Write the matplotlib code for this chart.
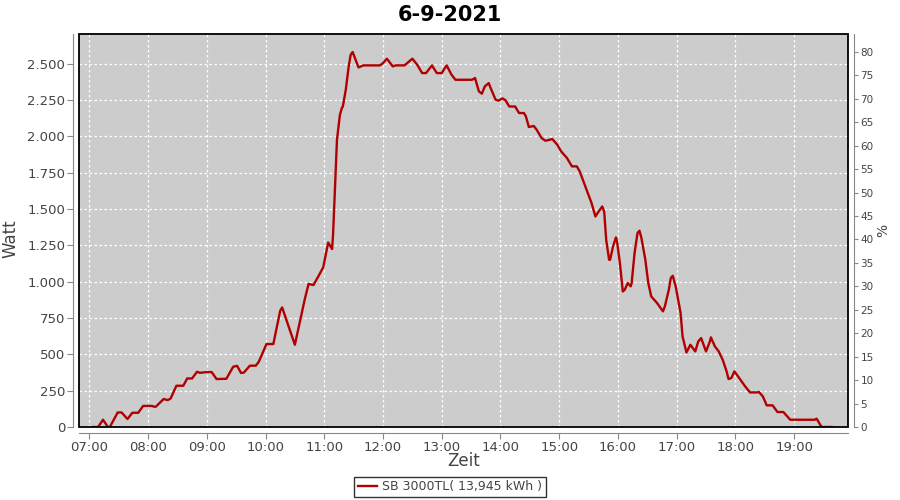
import matplotlib
matplotlib.use("Agg")
import matplotlib.pyplot as plt
from matplotlib.patches import Rectangle
from matplotlib.ticker import FuncFormatter

zeiten = ["07:04", "07:09", "07:14", "07:19", "07:21", "07:29", "07:33", "07:39", "07:44", "07:50",
          "07:55", "08:04", "08:06", "08:08", "08:16", "08:20", "08:23", "08:29", "08:36", "08:40",
          "08:45", "08:50", "08:53", "09:00", "09:05", "09:10", "09:20", "09:27", "09:31", "09:35",
          "09:38", "09:44", "09:50", "09:53", "10:01", "10:08", "10:15", "10:17", "10:30", "10:40",
          "10:44", "10:49", "10:54", "10:59", "11:04", "11:08", "11:09", "11:10", "11:12", "11:13",
          "11:16", "11:18", "11:19", "11:22", "11:25", "11:27", "11:29", "11:32", "11:35", "11:40",
          "11:57", "12:00", "12:04", "12:10", "12:13", "12:22", "12:26", "12:30", "12:35", "12:40",
          "12:44", "12:50", "12:55", "13:00", "13:05", "13:10", "13:14", "13:31", "13:34", "13:38",
          "13:41", "13:44", "13:48", "13:50", "13:55", "13:58", "14:02", "14:05", "14:09", "14:15",
          "14:19", "14:24", "14:26", "14:29", "14:34", "14:37", "14:42", "14:46", "14:53", "14:58",
          "15:02", "15:08", "15:13", "15:18", "15:21", "15:28", "15:33", "15:37", "15:40", "15:44",
          "15:46", "15:48", "15:51", "15:52", "15:55", "15:58", "15:59", "16:02", "16:05", "16:07",
          "16:10", "16:13", "16:14", "16:17", "16:20", "16:22", "16:24", "16:28", "16:31", "16:34",
          "16:40", "16:46", "16:48", "16:52", "16:54", "16:56", "16:59", "17:04", "17:06", "17:10",
          "17:12", "17:14", "17:19", "17:22", "17:25", "17:30", "17:34", "17:35", "17:39", "17:43",
          "17:47", "17:51", "17:53", "17:56", "17:59", "18:05", "18:10", "18:15", "18:22", "18:24",
          "18:28", "18:32", "18:38", "18:43", "18:49", "18:56", "19:21", "19:23", "19:28", "19:38"]
watt = [0, 0, 50, 0, 0, 100, 100, 55, 98, 98,
        145, 145, 140, 140, 193, 185, 195, 284, 284, 334,
        334, 380, 373, 378, 378, 330, 332, 415, 421, 372,
        375, 422, 422, 447, 571, 571, 800, 823, 566, 876,
        985, 977, 1037, 1100, 1270, 1225, 1323, 1484, 1817, 1977,
        2149, 2195, 2206, 2321, 2482, 2562, 2581, 2528, 2475, 2489,
        2489, 2505, 2535, 2482, 2489, 2489, 2512, 2535, 2493, 2436,
        2436, 2489, 2436, 2436, 2489, 2425, 2390, 2390, 2402, 2310,
        2294, 2344, 2367, 2333, 2253, 2246, 2262, 2250, 2206, 2206,
        2161, 2161, 2138, 2065, 2072, 2046, 1989, 1970, 1982, 1943,
        1897, 1851, 1794, 1794, 1759, 1633, 1542, 1449, 1480, 1518,
        1480, 1289, 1151, 1151, 1243, 1305, 1280, 1129, 933, 945,
        991, 968, 990, 1198, 1335, 1351, 1301, 1151, 991, 899,
        853, 796, 832, 945, 1025, 1041, 968, 785, 624, 513,
        540, 566, 520, 588, 612, 520, 590, 617, 555, 520,
        463, 383, 330, 338, 383, 326, 279, 238, 238, 241,
        211, 149, 149, 103, 103, 50, 50, 57, 0, 0]

stunden = list(range(7, 20))
stunden_labels = [f"{h:02d}:00" for h in stunden]
watt_ticks = list(range(0, 2501, 250))
prozent_ticks = list(range(0, 81, 5))

x = [int(z[:2]) + int(z[3:]) / 60 for z in zeiten]

achse_grau = "#888888"
text_grau = "#444444"

fig = plt.figure(figsize=(9, 5), dpi=100)
ax = fig.add_axes([0.0878, 0.146, 0.8544, 0.786])
ax.set_facecolor("#cccccc")

linie, = ax.plot(x, watt, color="#b00000", linewidth=1.7, zorder=3)

ax.set_xlim(6 + 49.5 / 60, 19 + 55 / 60)
ax.set_ylim(0, 2705)
ax.set_xticks(stunden)
ax.set_xticklabels(stunden_labels)
ax.set_yticks(watt_ticks)
ax.yaxis.set_major_formatter(FuncFormatter(lambda v, p: f"{int(v):,}".replace(",", ".")))

ax.grid(True, color="white", linestyle=(0, (2, 2)), linewidth=0.9)
ax.set_axisbelow(True)

for s in ["top", "right"]:
    ax.spines[s].set_visible(False)
for s in ["left", "bottom"]:
    ax.spines[s].set_position(("outward", 4))
    ax.spines[s].set_color(achse_grau)
ax.tick_params(colors=achse_grau, labelcolor=text_grau, labelsize=9.5, length=4, pad=2)

# schwarzer Rahmen um die Zeichenflaeche
ax.add_patch(Rectangle((0, 0), 1, 1, transform=ax.transAxes, fill=False,
                       edgecolor="black", linewidth=1.3, zorder=5, clip_on=False))

ax.set_ylabel("Watt", fontsize=12, color=text_grau)
ax.yaxis.set_label_coords(-0.077, 0.48)
ax.set_xlabel("Zeit", fontsize=12, color=text_grau)
ax.xaxis.set_label_coords(0.5, -0.064)

ax2 = ax.twinx()
ax2.set_ylim(0, 83.8)
ax2.set_yticks(prozent_ticks)
for s in ["top", "left", "bottom"]:
    ax2.spines[s].set_visible(False)
ax2.spines["right"].set_position(("outward", 4))
ax2.spines["right"].set_color(achse_grau)
ax2.tick_params(colors=achse_grau, labelcolor=text_grau, labelsize=7.5, length=3, pad=2)
ax2.set_ylabel("%", fontsize=10, color=text_grau, labelpad=2)

fig.suptitle("6-9-2021", fontsize=15, fontweight="bold", y=0.99)

leg = fig.legend([linie], ["SB 3000TL( 13,945 kWh )"], loc="lower center",
                 bbox_to_anchor=(0.5, 0.006), borderaxespad=0, frameon=True, fancybox=False,
                 fontsize=9, handlelength=1.5, borderpad=0.3, handletextpad=0.4)
leg.get_frame().set_edgecolor("black")
leg.get_frame().set_linewidth(1)
for t in leg.get_texts():
    t.set_color(text_grau)

fig.savefig("out.png", dpi=100)
